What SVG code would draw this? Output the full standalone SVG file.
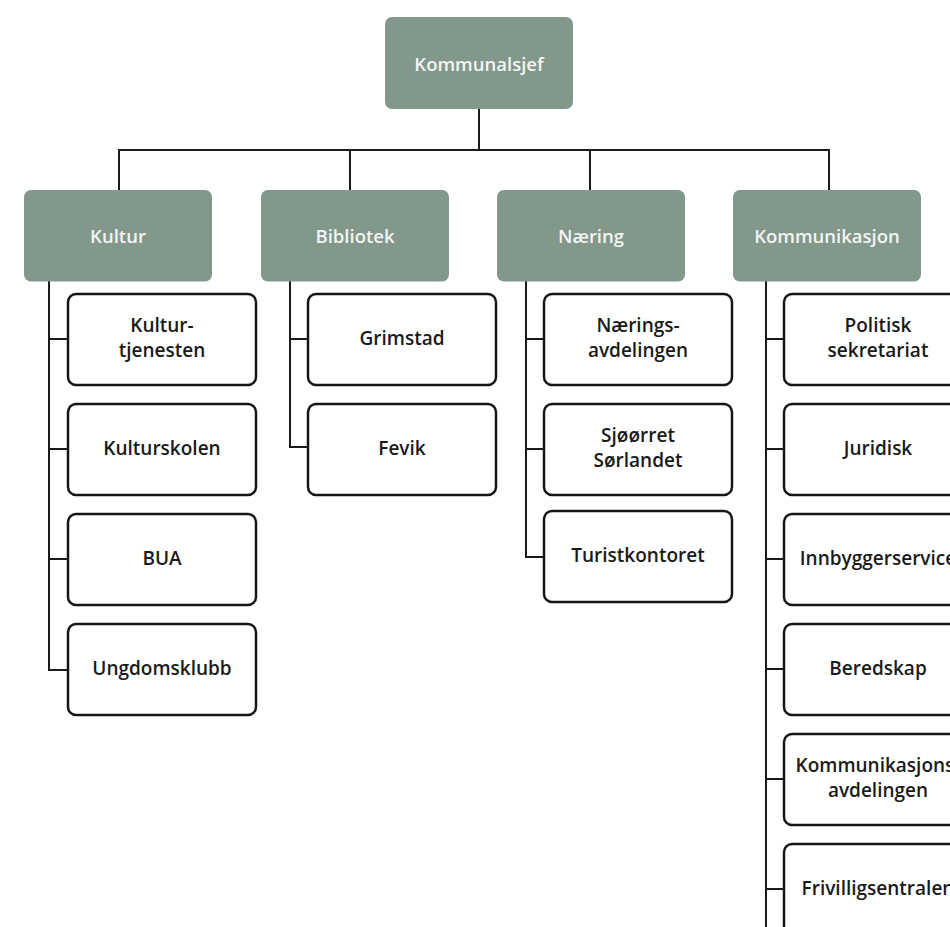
<svg xmlns="http://www.w3.org/2000/svg" width="950" height="927" viewBox="0 0 950 927">
<style>
.hd rect{fill:#81988b}
.hd text{fill:#f4f4f4;font-family:"Open Sans",sans-serif;font-weight:600;font-size:18.5px;text-anchor:middle}
.ch rect{fill:#fff;stroke:#161616;stroke-width:2.5}
.ch text{fill:#1a1a1a;font-family:"Open Sans",sans-serif;font-weight:600;font-size:19px;text-anchor:middle}
#connectors path{fill:none;stroke:#1a1a1a;stroke-width:2}
</style>
<rect width="950" height="927" fill="#fff"/>
<g id="connectors">
<path d="M479 108V150M119 190V150H829V190M350 150V190M590 150V190"/>
<path d="M49 281V670H68M49 339H68M49 449H68M49 559H68"/>
<path d="M290 281V447H308M290 339H308"/>
<path d="M526 281V557H544M526 339H544M526 449H544"/>
<path d="M766 281V927M766 339H784M766 449H784M766 559H784M766 669H784M766 779H784M766 889H784"/>
</g>
<g id="kommunalsjef" class="hd"><rect x="385" y="17" width="188" height="92" rx="7"/><text x="479" y="71">Kommunalsjef</text></g>
<g id="kultur" class="hd"><rect x="24" y="190" width="188" height="91.5" rx="7"/><text x="118" y="242.5">Kultur</text></g>
<g id="bibliotek" class="hd"><rect x="261" y="190" width="188" height="91.5" rx="7"/><text x="355" y="242.5">Bibliotek</text></g>
<g id="naering" class="hd"><rect x="497" y="190" width="188" height="91.5" rx="7"/><text x="591" y="242.5">Næring</text></g>
<g id="kommunikasjon" class="hd"><rect x="733" y="190" width="188" height="91.5" rx="7"/><text x="827" y="242.5">Kommunikasjon</text></g>

<g id="kulturtjenesten" class="ch"><rect x="68" y="294" width="188" height="91" rx="8"/><text x="162" y="332">Kultur-</text><text x="162" y="356.5">tjenesten</text></g>
<g id="kulturskolen" class="ch"><rect x="68" y="404" width="188" height="91" rx="8"/><text x="162" y="455">Kulturskolen</text></g>
<g id="bua" class="ch"><rect x="68" y="514" width="188" height="91" rx="8"/><text x="162" y="565">BUA</text></g>
<g id="ungdomsklubb" class="ch"><rect x="68" y="624" width="188" height="91" rx="8"/><text x="162" y="675">Ungdomsklubb</text></g>

<g id="grimstad" class="ch"><rect x="308" y="294" width="188" height="91" rx="8"/><text x="402" y="345">Grimstad</text></g>
<g id="fevik" class="ch"><rect x="308" y="404" width="188" height="91" rx="8"/><text x="402" y="455">Fevik</text></g>

<g id="naeringsavdelingen" class="ch"><rect x="544" y="294" width="188" height="91" rx="8"/><text x="638" y="332">Nærings-</text><text x="638" y="356.5">avdelingen</text></g>
<g id="sjoorret" class="ch"><rect x="544" y="404" width="188" height="91" rx="8"/><text x="638" y="442">Sjøørret</text><text x="638" y="466.5">Sørlandet</text></g>
<g id="turistkontoret" class="ch"><rect x="544" y="511" width="188" height="91" rx="8"/><text x="638" y="562">Turistkontoret</text></g>

<g id="politisk" class="ch"><rect x="784" y="294" width="188" height="91" rx="8"/><text x="878" y="332">Politisk</text><text x="878" y="356.5">sekretariat</text></g>
<g id="juridisk" class="ch"><rect x="784" y="404" width="188" height="91" rx="8"/><text x="878" y="455">Juridisk</text></g>
<g id="innbyggerservice" class="ch"><rect x="784" y="514" width="188" height="91" rx="8"/><text x="878" y="565">Innbyggerservice</text></g>
<g id="beredskap" class="ch"><rect x="784" y="624" width="188" height="91" rx="8"/><text x="878" y="675">Beredskap</text></g>
<g id="kommunikasjonsavdelingen" class="ch"><rect x="784" y="734" width="188" height="91" rx="8"/><text x="878" y="772">Kommunikasjons-</text><text x="878" y="796.5">avdelingen</text></g>
<g id="frivilligsentralen" class="ch"><rect x="784" y="844" width="188" height="91" rx="8"/><text x="878" y="895">Frivilligsentralen</text></g>
</svg>
